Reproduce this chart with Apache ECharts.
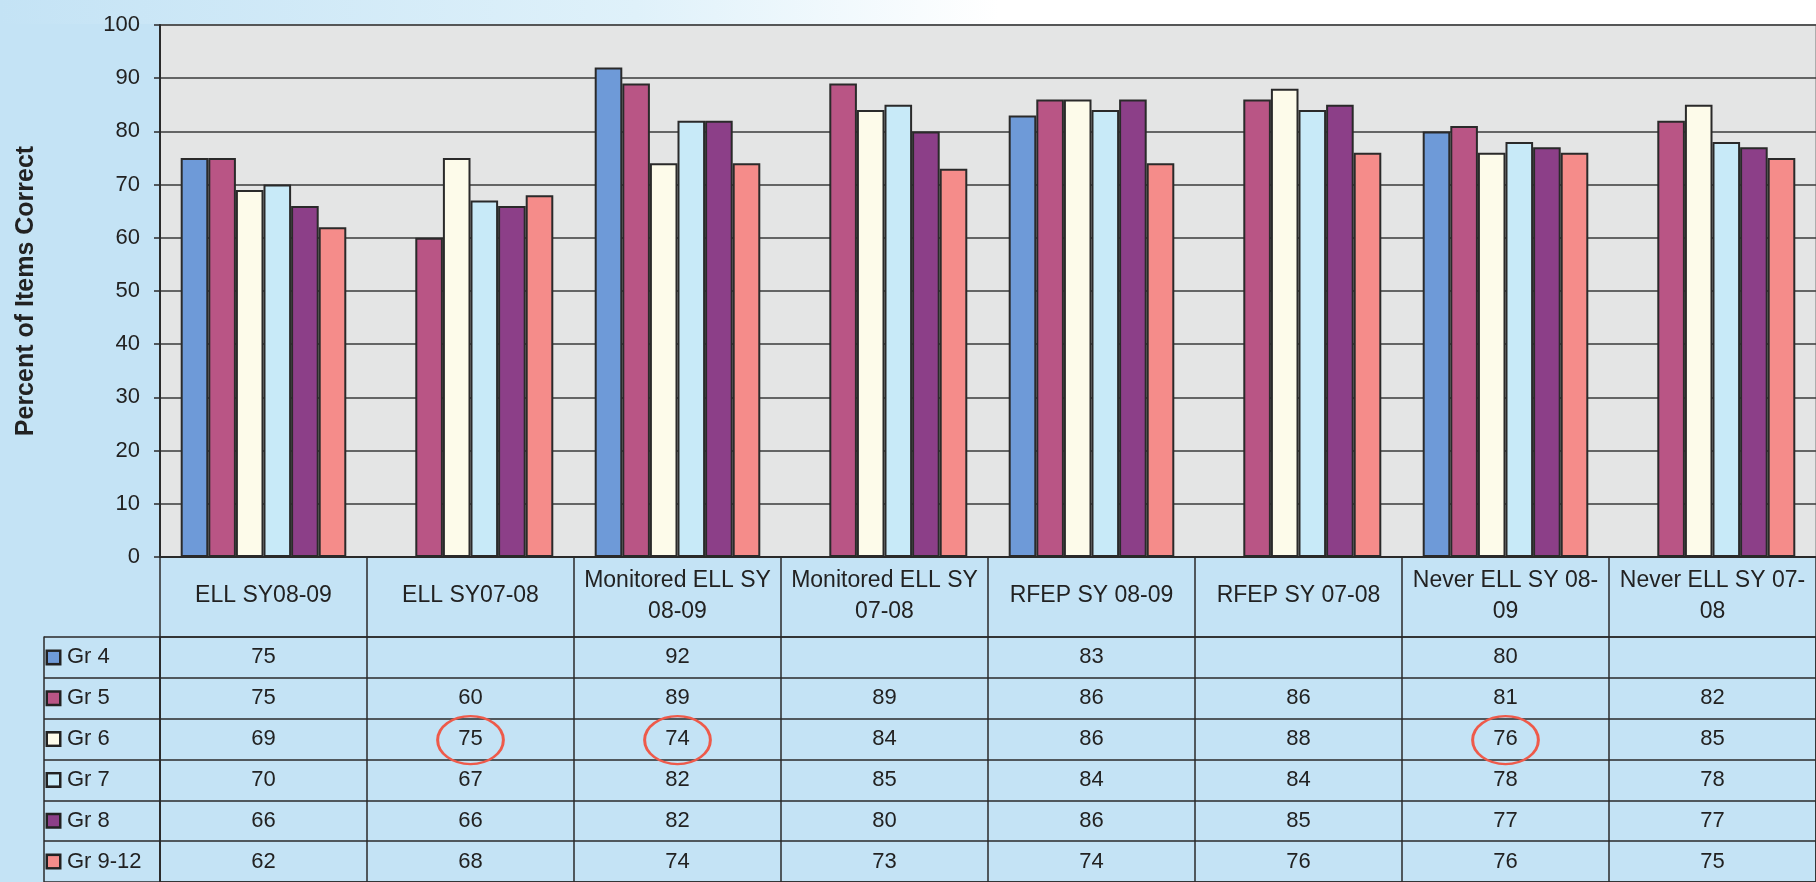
<!DOCTYPE html>
<html>
<head>
<meta charset="utf-8">
<script src="https://cdn.jsdelivr.net/npm/echarts@6/dist/echarts.min.js"></script>
<style>
  html, body { margin: 0; padding: 0; background: #c4e3f5; }
  #chart { width: 1816px; height: 882px; }
</style>
</head>
<body>
<div id="chart"></div>
<script>
const categories = [
  'ELL SY08-09', 'ELL SY07-08', 'Monitored ELL SY\n08-09', 'Monitored ELL SY\n07-08',
  'RFEP SY 08-09', 'RFEP SY 07-08', 'Never ELL SY 08-\n09', 'Never ELL SY 07-\n08'
]
const grades = ['Gr 4', 'Gr 5', 'Gr 6', 'Gr 7', 'Gr 8', 'Gr 9-12']
const gr4 = [75, null, 92, null, 83, null, 80, null]
const gr5 = [75, 60, 89, 89, 86, 86, 81, 82]
const gr6 = [69, 75, 74, 84, 86, 88, 76, 85]
const gr7 = [70, 67, 82, 85, 84, 84, 78, 78]
const gr8 = [66, 66, 82, 80, 86, 85, 77, 77]
const gr912 = [62, 68, 74, 73, 74, 76, 76, 75]
const yMin = 0
const yMax = 100
const yStep = 10
// cells circled in red on the original: [category index, grade index]
const circled = [[1, 2], [2, 2], [6, 2]]

const values = [gr4, gr5, gr6, gr7, gr8, gr912]
const colors = ['#6e9ad8', '#b95585', '#fdfbea', '#c8eaf8', '#8c3f88', '#f58c8a']
const font = "'Liberation Sans', Arial, sans-serif"
const ink = '#2a2a2a'

const cells = []
values.forEach((row, gi) => row.forEach((v, ci) => {
  if (v !== null) cells.push([ci, gi, v])
}))

const rich = { t: { fontSize: 22, fontFamily: font, color: '#222', padding: [0, 0, 0, 8] } }
colors.forEach((c, i) => {
  rich['s' + i] = { width: 11, height: 11, backgroundColor: c, borderColor: '#222', borderWidth: 2.5 }
})

const chart = echarts.init(document.getElementById('chart'))
chart.setOption({
  backgroundColor: '#c4e3f5',
  animation: false,
  // the scan fades to white paper along the top right edge
  graphic: [{
    type: 'rect', left: 0, top: 0, z: -1,
    shape: { width: 1816, height: 24 },
    style: {
      fill: new echarts.graphic.LinearGradient(0, 0, 1, 0, [
        { offset: 0, color: '#c4e3f5' }, { offset: 0.35, color: '#dff1fa' }, { offset: 0.55, color: '#ffffff' }, { offset: 1, color: '#ffffff' }
      ])
    }
  }],
  grid: [
    { left: 160, top: 25, width: 1664, height: 532, show: true, backgroundColor: '#e4e5e5', borderColor: '#9a9a9a', borderWidth: 1.5 },
    { left: 160, top: 637, width: 1664, height: 250, show: true, backgroundColor: 'transparent', borderColor: ink, borderWidth: 1.5 }
  ],
  xAxis: [
    {
      type: 'category', gridIndex: 0, data: categories,
      axisLine: { lineStyle: { color: ink, width: 2 } },
      axisTick: { show: true, interval: 0, length: 80, lineStyle: { color: ink, width: 1.5 } },
      axisLabel: {
        interval: 0, margin: 39, verticalAlign: 'middle', align: 'center',
        fontSize: 23, lineHeight: 31, fontFamily: font, color: '#222'
      },
      splitLine: { show: false }
    },
    {
      type: 'category', gridIndex: 1, data: categories,
      axisLine: { show: false }, axisTick: { show: false }, axisLabel: { show: false },
      splitLine: { show: true, interval: 0, lineStyle: { color: ink, width: 1.5 } }
    }
  ],
  yAxis: [
    {
      type: 'value', gridIndex: 0, min: yMin, max: yMax, interval: yStep,
      name: 'Percent of Items Correct', nameLocation: 'middle', nameGap: 121,
      nameTextStyle: { fontSize: 25, fontWeight: 'bold', fontFamily: font, color: '#222' },
      axisLine: { show: true, lineStyle: { color: ink, width: 2 } },
      axisTick: { show: true, length: 6, lineStyle: { color: ink, width: 1.5 } },
      axisLabel: { fontSize: 22, fontFamily: font, color: '#222', margin: 20 },
      splitLine: { lineStyle: { color: '#3a3a3a', width: 1.5 } }
    },
    {
      type: 'category', gridIndex: 1, data: grades, inverse: true,
      axisLine: { show: true, lineStyle: { color: ink, width: 1.5 } },
      axisTick: { show: true, interval: 0, length: 116, lineStyle: { color: ink, width: 1.5 } },
      axisLabel: {
        interval: 0, align: 'left', margin: 112,
        formatter: (v, i) => `{s${i}|}{t|${v}}`, rich
      },
      splitLine: { show: true, interval: 0, lineStyle: { color: ink, width: 1.5 } }
    },
    {
      type: 'category', gridIndex: 1, data: grades, inverse: true, offset: 116, position: 'left',
      axisLine: { show: true, lineStyle: { color: ink, width: 1.5 } },
      axisTick: { show: false }, axisLabel: { show: false }, splitLine: { show: false }
    }
  ],
  series: [
    ...grades.map((g, i) => ({
      name: g, type: 'bar', xAxisIndex: 0, yAxisIndex: 0, data: values[i],
      barGap: '0%', barCategoryGap: '20%',
      itemStyle: { color: colors[i], borderColor: ink, borderWidth: 2 }
    })),
    {
      type: 'custom', xAxisIndex: 1, yAxisIndex: 1, data: cells, encode: { x: 0, y: 1 },
      renderItem: (params, api) => {
        const p = api.coord([api.value(0), api.value(1)])
        return {
          type: 'text', x: p[0], y: p[1],
          style: { text: String(api.value(2)), align: 'center', verticalAlign: 'middle', fontSize: 22, fontFamily: font, fill: '#222' }
        }
      }
    },
    {
      type: 'custom', xAxisIndex: 1, yAxisIndex: 1, data: circled, encode: { x: 0, y: 1 },
      renderItem: (params, api) => {
        const p = api.coord([api.value(0), api.value(1)])
        return {
          type: 'circle', x: p[0], y: p[1] + 1, scaleX: 1.37, scaleY: 1,
          shape: { cx: 0, cy: 0, r: 24 },
          style: { fill: 'none', stroke: '#ee5a4a', lineWidth: 2.2 }
        }
      }
    }
  ]
})
</script>
</body>
</html>
